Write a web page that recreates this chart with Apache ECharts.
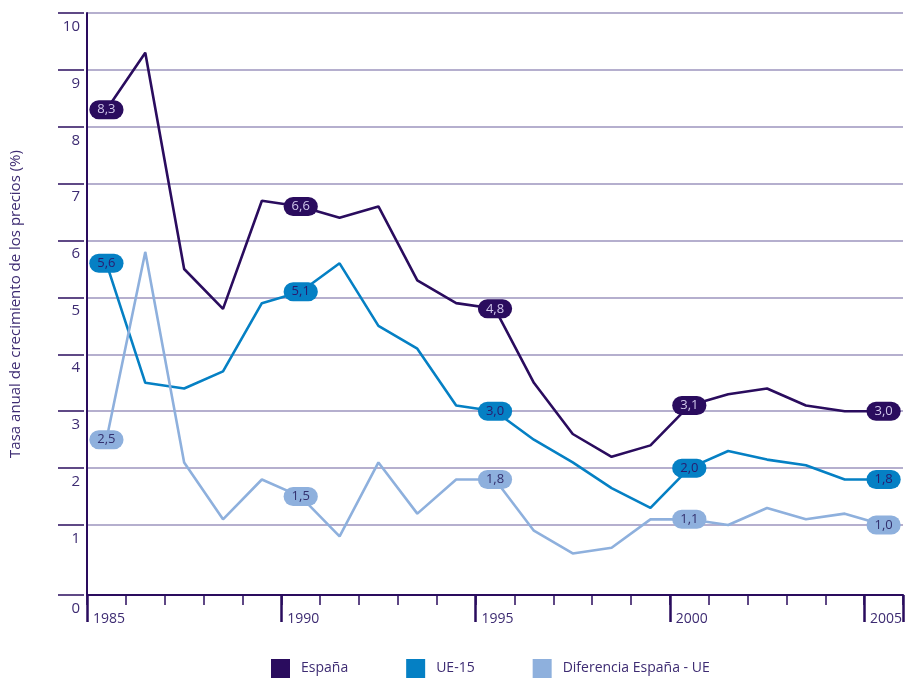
<!DOCTYPE html>
<html>
<head>
<meta charset="utf-8">
<script src="https://cdn.jsdelivr.net/npm/echarts@6/dist/echarts.min.js"></script>
<style>
  html, body { margin: 0; padding: 0; background: #fff; }
  #chart { width: 905px; height: 678px; }
</style>
</head>
<body>
<div id="chart"></div>
<script>
// datos
const years = ['1985', '1986', '1987', '1988', '1989', '1990', '1991', '1992', '1993', '1994', '1995',
  '1996', '1997', '1998', '1999', '2000', '2001', '2002', '2003', '2004', '2005'];
const espana = [8.3, 9.3, 5.5, 4.8, 6.7, 6.6, 6.4, 6.6, 5.3, 4.9, 4.8,
  3.5, 2.6, 2.2, 2.4, 3.1, 3.3, 3.4, 3.1, 3.0, 3.0];
const ue15 = [5.6, 3.5, 3.4, 3.7, 4.9, 5.1, 5.6, 4.5, 4.1, 3.1, 3.0,
  2.5, 2.1, 1.65, 1.3, 2.0, 2.3, 2.15, 2.05, 1.8, 1.8];
const diferencia = [2.5, 5.8, 2.1, 1.1, 1.8, 1.5, 0.8, 2.1, 1.2, 1.8, 1.8,
  0.9, 0.5, 0.6, 1.1, 1.1, 1.0, 1.3, 1.1, 1.2, 1.0];
const labelYears = ['1985', '1990', '1995', '2000', '2005'];
const yTicks = [0, 1, 2, 3, 4, 5, 6, 7, 8, 9, 10];

const dark = '#2a0c5e';
const txt = '#3d2b72';
const yMin = -0.23; // el eje de abscisas queda un poco por debajo del 0
const yTickValues = yTicks.map(v => v === 0 ? yMin : v);

function withLabels(values, bg, color) {
  return values.map((v, i) => {
    if (labelYears.indexOf(years[i]) < 0) return v;
    return {
      value: v,
      label: {
        show: true,
        position: 'inside',
        formatter: p => p.value.toFixed(1).replace('.', ','),
        backgroundColor: bg,
        color: color,
        borderRadius: 10,
        padding: [3, 8, 3, 8],
        fontSize: 13,
        fontFamily: 'Open Sans'
      }
    };
  });
}

function lineSeries(name, values, color, labelColor) {
  return {
    name: name,
    type: 'line',
    data: withLabels(values, color, labelColor),
    symbol: 'circle',
    symbolSize: 1,
    showSymbol: true,
    itemStyle: { color: color },
    lineStyle: { color: color, width: 2.6 },
    label: { show: false },
    z: 3
  };
}

const chart = echarts.init(document.getElementById('chart'));
chart.setOption({
  animation: false,
  textStyle: { fontFamily: 'Open Sans', color: txt },
  grid: [
    { left: 84, right: 0, top: 13, bottom: 83, containLabel: false },
    // franja a la izquierda del eje: marcas del eje vertical
    { left: 58, width: 26, top: 13, bottom: 83, containLabel: false }
  ],
  legend: {
    left: 266,
    top: 654,
    itemWidth: 19,
    itemHeight: 19,
    itemGap: 58,
    icon: 'rect',
    textStyle: { fontSize: 14, color: txt, padding: [0, 0, 0, 6] },
    data: ['España', 'UE-15', 'Diferencia España - UE']
  },
  xAxis: [{
    type: 'category',
    data: years,
    boundaryGap: true,
    axisLine: { show: true, onZero: false, lineStyle: { color: dark, width: 2 } },
    axisTick: { show: true, inside: false, length: 10, interval: 0, lineStyle: { color: dark, width: 1.5 } },
    axisLabel: { interval: 4, margin: 17, fontSize: 14, color: txt, padding: [0, 0, 0, 5] },
    splitLine: { show: false }
  }, {
    type: 'category',
    data: years,
    position: 'bottom',
    boundaryGap: true,
    axisLine: { show: false, onZero: false },
    axisTick: { show: true, inside: false, length: 27, interval: 4, lineStyle: { color: dark, width: 2.5 } },
    axisLabel: { show: false },
    splitLine: { show: false }
  }, {
    type: 'value',
    gridIndex: 1,
    min: 0,
    max: 1,
    show: false
  }],
  yAxis: [{
    type: 'value',
    min: yMin,
    max: 10,
    name: 'Tasa anual de crecimiento de los precios (%)',
    nameLocation: 'middle',
    nameGap: 64,
    nameTextStyle: { fontSize: 15, color: txt },
    axisLine: { show: true, lineStyle: { color: dark, width: 2 } },
    axisTick: { show: false, customValues: yTickValues },
    axisLabel: {
      customValues: yTickValues,
      formatter: v => String(Math.max(0, Math.round(v))),
      margin: 7,
      verticalAlign: 'top',
      padding: [6, 0, 0, 0],
      fontSize: 15,
      color: txt
    },
    splitLine: { show: true, lineStyle: { color: '#9c94be', width: 1.5 } }
  }, {
    type: 'value',
    gridIndex: 1,
    min: yMin,
    max: 10,
    axisLine: { show: false },
    axisTick: { show: false, customValues: yTickValues },
    axisLabel: { show: false, customValues: yTickValues },
    splitLine: { show: true, lineStyle: { color: dark, width: 1.5 } }
  }],
  series: [
    lineSeries('España', espana, dark, '#cfc6ea'),
    lineSeries('UE-15', ue15, '#0580c4', '#2a1a6e'),
    lineSeries('Diferencia España - UE', diferencia, '#8eb0dd', '#33306e')
  ]
});
</script>
</body>
</html>
